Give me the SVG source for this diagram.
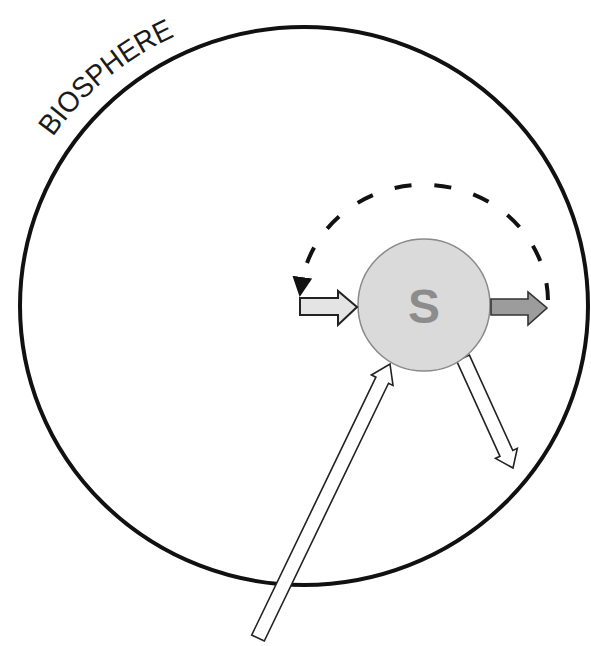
<svg xmlns="http://www.w3.org/2000/svg" width="591" height="646" viewBox="0 0 591 646">
  <style>
    .bio { fill: none; stroke: #111; stroke-width: 4; }
    .open { fill: #fff; stroke: #222; stroke-width: 1.6; stroke-linejoin: miter; }
    .label { font-family: "Liberation Sans", Arial, sans-serif; font-size: 29px; fill: #1a1a1a; }
  </style>
  <defs>
    <marker id="dashHead" viewBox="0 0 10 10" refX="5" refY="5" markerWidth="5" markerHeight="5" markerUnits="strokeWidth" orient="auto">
      <path d="M0,0 L10,5 L0,10 z" fill="#111"/>
    </marker>
    <path id="bioPath" d="M 53 137 A 302 297 0 0 1 304 9"/>
  </defs>
  <rect width="591" height="646" fill="#fff"/>

  <g id="biosphere">
    <ellipse class="bio" cx="304" cy="306" rx="284" ry="279"/>
    <text class="label"><textPath href="#bioPath" textLength="160" lengthAdjust="spacingAndGlyphs">BIOSPHERE</textPath></text>
  </g>

  <g id="connectors">
    <polygon id="out-arrow" class="open" points="456.6,360.9 500,456.3 495.5,458.4 513,468 517.3,448.4 512.8,450.5 469.4,355.1"/>
    <polygon id="in-arrow" class="open" points="251.7,635 375.9,377.2 371.4,375 390,364 393,385.4 388.5,383.2 264.3,641"/>
    <path id="feedback" d="M 548 300 A 124 117 0 0 0 301 287" fill="none" stroke="#111" stroke-width="4" stroke-dasharray="17 23" marker-end="url(#dashHead)"/>
  </g>

  <g id="node-s">
    <circle cx="424" cy="305" r="66" fill="#dadada" stroke="#8a8a8a" stroke-width="1.5"/>
    <text x="424" y="323" text-anchor="middle" font-family="'Liberation Sans', Arial, sans-serif" font-size="48" font-weight="bold" fill="#8c8c8c">S</text>
  </g>

  <g id="arrow-in-left">
    <polygon points="300,298 338,298 338,291 357,307 338,325 338,315 300,315" fill="#e4e4e4" stroke="#222" stroke-width="2"/>
  </g>
  <g id="arrow-out-right">
    <polygon points="491,299 528,299 528,292 547,308 528,325 528,315 491,315" fill="#9c9c9c" stroke="#333" stroke-width="1.6"/>
  </g>
</svg>
